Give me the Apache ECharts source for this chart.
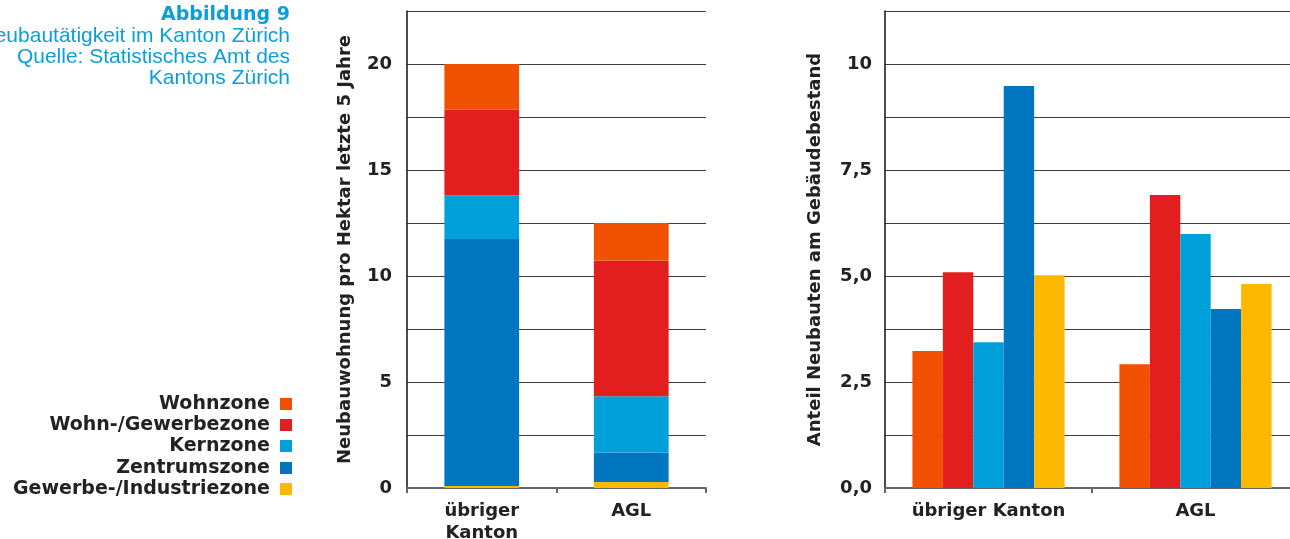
<!DOCTYPE html>
<html>
<head>
<meta charset="utf-8">
<script src="https://cdn.jsdelivr.net/npm/echarts@6/dist/echarts.min.js"></script>
<style>
  html, body { margin: 0; padding: 0; background: #fff; }
  #chart { width: 1290px; height: 539px; }
</style>
</head>
<body>
<div id="chart"></div>
<script>
// Categories and zone names
const categories = ['übriger Kanton', 'AGL'];
const zones = ['Wohnzone', 'Wohn-/Gewerbezone', 'Kernzone', 'Zentrumszone', 'Gewerbe-/Industriezone'];

// Neubauwohnungen pro Hektar, letzte 5 Jahre (stacked)
const densityWohn = [2.15, 1.77];
const densityWohnGewerbe = [4.05, 6.4];
const densityKern = [2.05, 2.65];
const densityZentrum = [11.65, 1.4];
const densityGewerbe = [0.1, 0.28];

// Anteil Neubauten am Gebäudebestand (%)
const shareWohn = [3.23, 2.92];
const shareWohnGewerbe = [5.09, 6.91];
const shareKern = [3.44, 5.99];
const shareZentrum = [9.48, 4.22];
const shareGewerbe = [5.02, 4.81];

// Tick labels
const leftTicks = ['0', '5', '10', '15', '20'];
const rightTicks = ['0,0', '2,5', '5,0', '7,5', '10'];

const zoneColors = ['#f05000', '#e21e1e', '#00a0da', '#0076c0', '#fdb900'];
const HEAVY = '"DejaVu Sans", Verdana, sans-serif';
const LIGHT = '"Liberation Sans", Arial, sans-serif';
const INK = '#222';
const BLUE = '#0a9fdc';

const chart = echarts.init(document.getElementById('chart'));

const densityData = [densityWohn, densityWohnGewerbe, densityKern, densityZentrum, densityGewerbe];
const shareData = [shareWohn, shareWohnGewerbe, shareKern, shareZentrum, shareGewerbe];

// stacked series: drawn bottom-up (Gewerbe first, Wohnzone last)
const stackOrder = [4, 3, 2, 1, 0];
const stackedSeries = stackOrder.map(i => ({
  name: zones[i],
  type: 'bar',
  stack: 'dichte',
  xAxisIndex: 0,
  yAxisIndex: 0,
  barWidth: '50%',
  itemStyle: { color: zoneColors[i] },
  data: densityData[i]
}));

const groupedSeries = zones.map((z, i) => ({
  name: z,
  type: 'bar',
  xAxisIndex: 1,
  yAxisIndex: 1,
  barGap: 0,
  barCategoryGap: '26.5%',
  itemStyle: { color: zoneColors[i] },
  data: shareData[i]
}));

const labelStyle = { fontFamily: HEAVY, fontSize: 18, fontWeight: 'bold', color: INK };

// one legend block per zone so text is right-aligned with the swatch on the right
const legendRows = [402, 423, 444, 466, 487];
const legends = zones.map((z, i) => ({
  data: [z],
  right: 998,
  top: legendRows[i] - 8,
  orient: 'vertical',
  align: 'right',
  icon: 'rect',
  itemWidth: 12,
  itemHeight: 12,
  padding: 0,
  selectedMode: false,
  textStyle: Object.assign({}, labelStyle, { fontSize: 19, lineHeight: 20, padding: [0, 5, 0, 0] })
}));

function yAxisBase(max, interval, ticks, name, nameGap, margin) {
  return {
    type: 'value',
    min: 0,
    max: max,
    interval: interval,
    name: name,
    nameLocation: 'middle',
    nameRotate: 90,
    nameGap: nameGap,
    nameTextStyle: labelStyle,
    axisLine: { show: true, lineStyle: { color: '#111', width: 1.5 } },
    axisTick: { show: false },
    splitLine: { show: true, lineStyle: { color: '#3c3c3c', width: 1 } },
    axisLabel: Object.assign({}, labelStyle, {
      margin: margin,
      formatter: v => {
        const k = Math.round(v / (interval * 2));
        return (Math.abs(v - k * interval * 2) < 1e-6) ? (ticks[k] || '') : '';
      }
    })
  };
}

function xAxisBase(grid, fmt) {
  return {
    type: 'category',
    gridIndex: grid,
    data: categories,
    axisLine: { lineStyle: { color: '#666', width: 2 } },
    axisTick: { show: true, length: 5, lineStyle: { color: '#666', width: 2 } },
    axisLabel: Object.assign({}, labelStyle, { margin: 12, lineHeight: 22, formatter: fmt })
  };
}

function titleLine(text, y, bold) {
  return {
    type: 'text', x: 290, y: y,
    style: {
      text: text, align: 'right', verticalAlign: 'middle', fill: BLUE,
      font: bold ? 'bold 19px ' + HEAVY : '21px ' + LIGHT
    }
  };
}

chart.setOption({
  animation: false,
  backgroundColor: '#fff',
  graphic: [
    titleLine('Abbildung 9', 15, true),
    titleLine('Neubautätigkeit im Kanton Zürich', 36, false),
    titleLine('Quelle: Statistisches Amt des', 57, false),
    titleLine('Kantons Zürich', 78, false)
  ],
  legend: legends,
  grid: [
    { left: 407, width: 299, top: 11, bottom: 51, outerBoundsMode: 'none', containLabel: false },
    { left: 885, width: 414, top: 11, bottom: 51, outerBoundsMode: 'none', containLabel: false }
  ],
  xAxis: [
    xAxisBase(0, v => v.replace(' ', '\n')),
    xAxisBase(1, v => v)
  ],
  yAxis: [
    Object.assign(yAxisBase(22.5, 2.5, leftTicks, 'Neubauwohnung pro Hektar letzte 5 Jahre', 53, 15), { gridIndex: 0 }),
    Object.assign(yAxisBase(11.25, 1.25, rightTicks, 'Anteil Neubauten am Gebäudebestand', 61, 13), { gridIndex: 1 })
  ],
  series: stackedSeries.concat(groupedSeries)
});
</script>
</body>
</html>
